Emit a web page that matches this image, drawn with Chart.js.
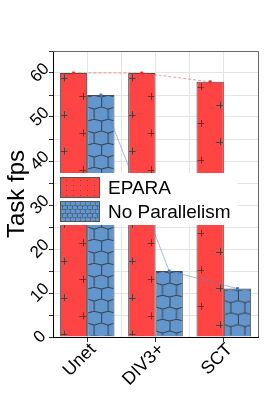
<!DOCTYPE html>
<html>
<head>
<meta charset="utf-8">
<script src="https://cdn.jsdelivr.net/npm/chart.js@4"></script>
<style>
  body { margin: 0; background: #fff; }
  #wrap { width: 280px; height: 398px; }
</style>
</head>
<body>
<div id="wrap"><canvas id="fpsChart" width="280" height="398"></canvas></div>
<script>
// Task fps per model
const categories = ['Unet', 'DIV3+', 'SCT'];
const eparaFps = [60, 60, 58];
const noParallelFps = [55, 15, 11];
const yTickLabels = [0, 10, 20, 30, 40, 50, 60];

const RED = '#ff4444';
const BLUE = '#6396cd';
const CAT_PCT = 0.8;

// bar centre in category units (two bars per group)
function barCentre(i, side) {
    return i + side * CAT_PCT / 4;
}

// hexagon tile for the blue bars
function makeHexTile(scale) {
    const c = document.createElement('canvas');
    c.width = Math.round(14 * scale);
    c.height = Math.round(24 * scale);
    const g = c.getContext('2d');
    g.scale(scale, scale);
    g.strokeStyle = 'rgba(45,45,45,0.8)';
    g.lineWidth = 1 / Math.max(scale, 0.6);
    g.beginPath();
    g.moveTo(0.5, 2); g.lineTo(0.5, 12);
    g.moveTo(7, 14); g.lineTo(7, 24);
    g.moveTo(0, 2); g.lineTo(7, 0.3); g.lineTo(14, 2);
    g.moveTo(0, 12); g.lineTo(7, 14); g.lineTo(14, 12);
    g.stroke();
    return c;
}

function drawPluses(ctx, left, top, h, step, size) {
    ctx.strokeStyle = 'rgba(60,60,60,0.85)';
    ctx.lineWidth = 1;
    ctx.beginPath();
    for (let k = 0; k * step < h + step; k++) {
        const pts = [[left + 4, top + 5 + k * step], [left + 23, top + 5 + step / 2 + k * step]];
        pts.forEach(([px, py]) => {
            ctx.moveTo(px - size, Math.round(py) + 0.5);
            ctx.lineTo(px + size, Math.round(py) + 0.5);
            ctx.moveTo(Math.round(px) + 0.5, py - size);
            ctx.lineTo(Math.round(px) + 0.5, py + size);
        });
    }
    ctx.stroke();
}

const hexTile = makeHexTile(1);
const hexTileSmall = makeHexTile(0.35);

const barTexture = {
    id: 'barTexture',
    afterDatasetDraw(chart, args) {
        const ctx = chart.ctx;
        const meta = args.meta;
        if (meta.type !== 'bar') return;
        meta.data.forEach(bar => {
            const left = bar.x - bar.width / 2;
            const top = bar.y;
            const h = bar.base - bar.y;
            ctx.save();
            ctx.beginPath();
            ctx.rect(left + 1, top + 1, bar.width - 2, h - 2);
            ctx.clip();
            if (args.index === 0) {
                drawPluses(ctx, left, top, h, 36.6, 3.5);
            } else {
                ctx.translate(left, top);
                ctx.fillStyle = ctx.createPattern(hexTile, 'repeat');
                ctx.fillRect(0, 0, bar.width, h);
            }
            ctx.restore();
        });
    }
};

const frameAndLabels = {
    id: 'frameAndLabels',
    afterDraw(chart) {
        const ctx = chart.ctx;
        const area = chart.chartArea;
        const yScale = chart.scales.y;
        ctx.save();
        // top and right frame
        ctx.strokeStyle = '#666';
        ctx.lineWidth = 1;
        ctx.beginPath();
        ctx.moveTo(area.left, Math.round(area.top) + 0.5);
        ctx.lineTo(Math.round(area.right) + 0.5, Math.round(area.top) + 0.5);
        ctx.lineTo(Math.round(area.right) + 0.5, area.bottom);
        ctx.stroke();

        // rotated y tick labels
        ctx.fillStyle = '#000';
        ctx.font = '17px "Liberation Sans", Arial, sans-serif';
        ctx.textAlign = 'center';
        ctx.textBaseline = 'middle';
        yTickLabels.forEach(v => {
            const py = yScale.getPixelForValue(v);
            ctx.save();
            ctx.translate(area.left - 13, py);
            ctx.rotate(-Math.PI / 4);
            ctx.fillText(String(v), 0, 0);
            ctx.restore();
        });

        // legend box inside the plot
        const lx = area.left + 4, ly = area.top + 122;
        ctx.fillStyle = '#fff';
        ctx.fillRect(lx, ly, 180, 52);
        const entries = [
            { label: 'EPARA', color: RED, y: ly + 4 },
            { label: 'No Parallelism', color: BLUE, y: ly + 28 }
        ];
        entries.forEach((e, i) => {
            const sx = lx + 3, sw = 40, sh = 21;
            ctx.fillStyle = e.color;
            ctx.fillRect(sx, e.y, sw, sh);
            ctx.save();
            ctx.beginPath();
            ctx.rect(sx + 1, e.y + 1, sw - 2, sh - 2);
            ctx.clip();
            if (i === 0) {
                ctx.fillStyle = 'rgba(70,70,70,0.7)';
                for (let yy = e.y + 3; yy < e.y + sh; yy += 5) {
                    const shift = ((yy - e.y) / 5) % 2 ? 3 : 0;
                    for (let xx = sx + 3 + shift; xx < sx + sw; xx += 7) {
                        ctx.fillRect(xx, yy, 1, 1);
                    }
                }
            } else {
                ctx.translate(sx, e.y);
                ctx.fillStyle = ctx.createPattern(hexTileSmall, 'repeat');
                ctx.fillRect(0, 0, sw, sh);
            }
            ctx.restore();
            ctx.strokeStyle = '#555';
            ctx.strokeRect(sx + 0.5, e.y + 0.5, sw - 1, sh - 1);
            ctx.fillStyle = '#000';
            ctx.font = '19px "Liberation Sans", Arial, sans-serif';
            ctx.textAlign = 'left';
            ctx.textBaseline = 'middle';
            ctx.fillText(e.label, sx + 48, e.y + sh / 2 + 1);
        });
        ctx.restore();
    }
};

Chart.defaults.font.family = '"Liberation Sans", Arial, sans-serif';
Chart.defaults.color = '#000';

const ctx = document.getElementById('fpsChart').getContext('2d');
new Chart(ctx, {
    type: 'bar',
    data: {
        datasets: [
            {
                label: 'EPARA',
                data: eparaFps.map((v, i) => ({ x: i, y: v })),
                backgroundColor: RED,
                borderColor: '#4a4a4a',
                borderWidth: 1,
                categoryPercentage: CAT_PCT,
                barPercentage: 1.0,
                order: 2
            },
            {
                label: 'No Parallelism',
                data: noParallelFps.map((v, i) => ({ x: i, y: v })),
                backgroundColor: BLUE,
                borderColor: '#4a4a4a',
                borderWidth: 1,
                categoryPercentage: CAT_PCT,
                barPercentage: 1.0,
                order: 2
            },
            {
                type: 'line',
                label: 'EPARA trend',
                data: eparaFps.map((v, i) => ({ x: barCentre(i, -1), y: v })),
                borderColor: 'rgba(255,70,70,0.55)',
                borderWidth: 1,
                borderDash: [3, 2],
                pointStyle: 'rect',
                pointRadius: 2,
                pointBackgroundColor: '#ff2020',
                pointBorderColor: '#ff2020',
                pointBorderWidth: 0,
                tension: 0,
                order: 0
            },
            {
                type: 'line',
                label: 'No Parallelism trend',
                data: noParallelFps.map((v, i) => ({ x: barCentre(i, 1), y: v })),
                borderColor: 'rgba(80,130,195,0.65)',
                borderWidth: 0.8,
                pointStyle: 'rect',
                pointRadius: 2,
                pointBackgroundColor: '#3f78c0',
                pointBorderColor: '#3f78c0',
                pointBorderWidth: 0,
                tension: 0,
                order: 0
            }
        ]
    },
    options: {
        responsive: false,
        animation: false,
        layout: {
            padding: { top: 51, right: 22, left: 0, bottom: 0 }
        },
        plugins: {
            legend: { display: false },
            tooltip: { enabled: false }
        },
        scales: {
            x: {
                type: 'linear',
                min: -0.5,
                max: 2.5,
                offset: false,
                grid: {
                    offset: false,
                    drawOnChartArea: false,
                    drawTicks: true,
                    tickLength: 5,
                    tickColor: '#333'
                },
                border: { color: '#000', width: 1 },
                // one tick per category
                afterBuildTicks(scale) {
                    scale.ticks = categories.map((c, i) => ({ value: i }));
                },
                ticks: {
                    minRotation: 45,
                    maxRotation: 45,
                    autoSkip: false,
                    padding: -3,
                    labelOffset: 6,
                    color: '#000',
                    font: { size: 18 },
                    callback: v => categories[v]
                },
                afterFit(scale) { scale.height = 61; }
            },
            // gridlines at group centres and group boundaries
            xGrid: {
                type: 'linear',
                position: 'top',
                min: -0.5,
                max: 2.5,
                offset: false,
                grid: { offset: false, color: '#e4e4e4', drawTicks: false },
                border: { display: false },
                ticks: { display: false, stepSize: 0.5 },
                afterFit(scale) { scale.height = 0; }
            },
            y: {
                min: 0,
                max: 65,
                grid: {
                    color: '#e4e4e4',
                    tickColor: '#333',
                    tickLength: 4
                },
                border: { color: '#000', width: 1 },
                ticks: { display: false, stepSize: 5 },
                title: {
                    display: true,
                    text: 'Task fps',
                    color: '#000',
                    font: { size: 24 },
                    padding: { top: 3, bottom: 0 }
                },
                afterFit(scale) { scale.width = 53; }
            }
        }
    },
    plugins: [barTexture, frameAndLabels]
});
</script>
</body>
</html>
